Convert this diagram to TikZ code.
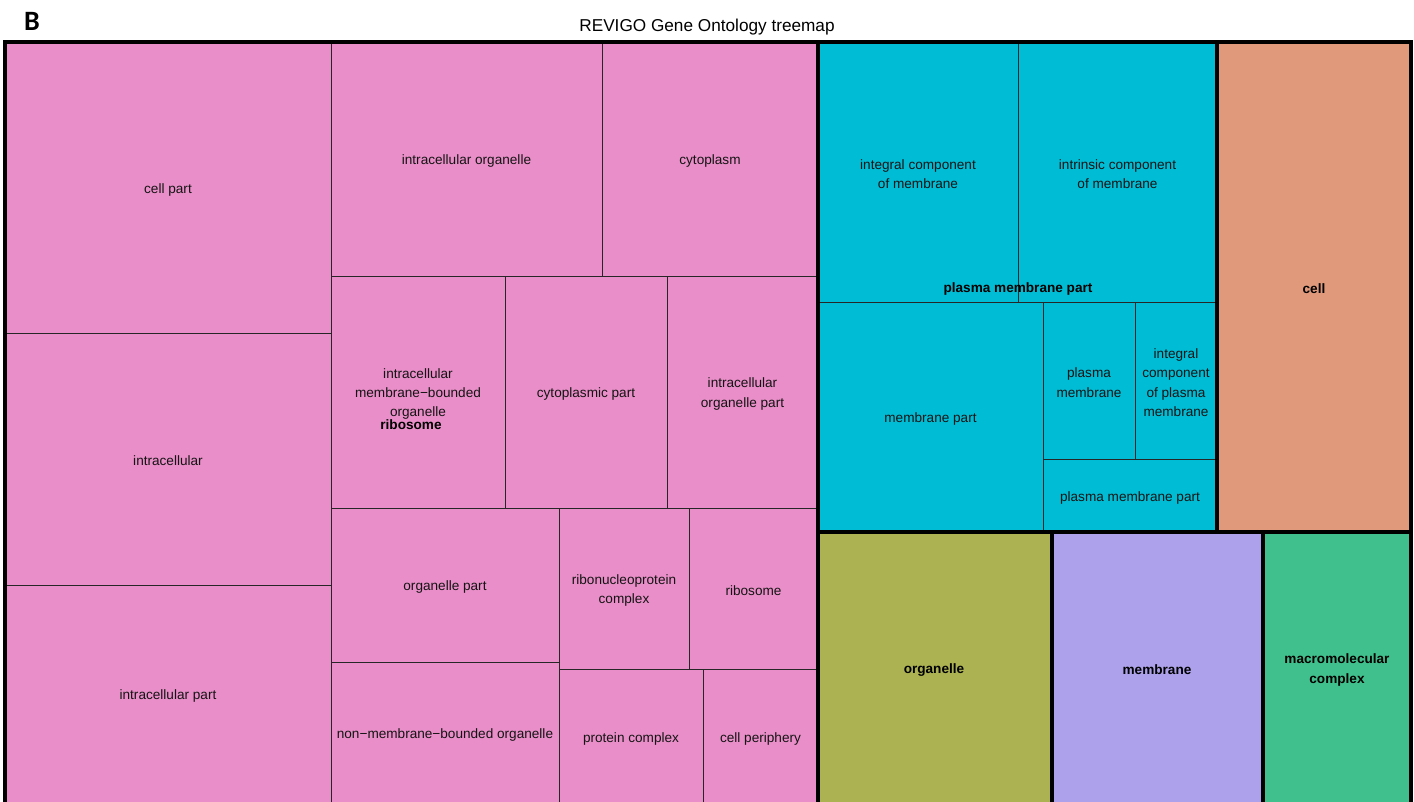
\documentclass[tikz,border=0pt]{standalone}
\usepackage{fontspec}
\setmainfont{Liberation Sans}
\newfontfamily\carlito{Carlito}
\definecolor{gopink}{HTML}{E98EC8}
\definecolor{gocyan}{HTML}{00BCD4}
\definecolor{gosalmon}{HTML}{E0997B}
\definecolor{goolive}{HTML}{ACB151}
\definecolor{golav}{HTML}{ACA1EA}
\definecolor{gogreen}{HTML}{40C08C}
\tikzset{
  thinline/.style={draw=black!85, line width=0.75pt},
  thickline/.style={draw=black, line width=2.5pt},
  lbl/.style={font=\fontsize{10.2}{14.6}\selectfont, text=black!92, align=center, inner sep=0pt},
  grplbl/.style={font=\fontsize{10.2}{14.6}\selectfont\bfseries, text=black, align=center, inner sep=0pt},
}
\newcommand{\gotile}[7]{%
  \fill[#6] (#2,#3) rectangle (#4,#5);
  \draw[thinline] (#2,#3) rectangle (#4,#5);
  \node[lbl] (#1) at ({(#2+#4)/2},{(#3+#5)/2+2}) {#7};}
\begin{document}
\begin{tikzpicture}[x=0.75pt,y=-0.75pt]
\useasboundingbox (0,0) rectangle (1414,801);
% title
\node[font=\carlito\bfseries\fontsize{21}{23}\selectfont, inner sep=0pt] (lblB) at (32,21.5) {B};
\node[font=\fontsize{12.9}{15}\selectfont, inner sep=0pt] (title) at (707,27) {REVIGO Gene Ontology treemap};
% pink group
\gotile{cellpart}{5}{42}{331}{333}{gopink}{cell part}
\gotile{intracellular}{5}{333}{331}{585}{gopink}{intracellular}
\gotile{intracellularpart}{5}{585}{331}{803}{gopink}{intracellular part}
\gotile{intorg}{331}{42}{602}{276}{gopink}{intracellular organelle}
\gotile{cytoplasm}{602}{42}{818}{276}{gopink}{cytoplasm}
\gotile{imbo}{331}{276}{505}{508}{gopink}{intracellular\\membrane\char"2212 bounded\\organelle}
\gotile{cytopart}{505}{276}{667}{508}{gopink}{cytoplasmic part}
\gotile{intorgpart}{667}{276}{818}{508}{gopink}{intracellular\\organelle part}
\gotile{orgpart}{331}{508}{559}{662}{gopink}{organelle part}
\gotile{nmbo}{331}{662}{559}{804}{gopink}{non\char"2212 membrane\char"2212 bounded organelle}
\gotile{rnp}{559}{508}{689}{669}{gopink}{ribonucleoprotein\\complex}
\gotile{ribosome}{689}{508}{818}{669}{gopink}{ribosome}
\gotile{protcomplex}{559}{669}{703}{804}{gopink}{protein complex}
\gotile{cellperiph}{703}{669}{818}{804}{gopink}{cell periphery}
% cyan group
\gotile{icm}{818}{42}{1018}{302}{gocyan}{integral component\\of membrane}
\gotile{intrcm}{1018}{42}{1217}{302}{gocyan}{intrinsic component\\of membrane}
\gotile{mempart}{818}{302}{1043}{532}{gocyan}{membrane part}
\gotile{plasmamem}{1043}{302}{1135}{459}{gocyan}{plasma\\membrane}
\gotile{icpm}{1135}{302}{1217}{459}{gocyan}{integral\\component\\of plasma\\membrane}
\gotile{pmpart}{1043}{459}{1217}{532}{gocyan}{plasma membrane part}
% single groups
\fill[gosalmon] (1217,42) rectangle (1411,532);
\fill[goolive] (818,532) rectangle (1052,804);
\fill[golav] (1052,532) rectangle (1263,804);
\fill[gogreen] (1263,532) rectangle (1411,804);
% thick group borders
\draw[thickline] (5,42) rectangle (818,806);
\draw[thickline] (818,42) rectangle (1217,532);
\draw[thickline] (1217,42) rectangle (1411,532);
\draw[thickline] (818,532) rectangle (1052,806);
\draw[thickline] (1052,532) rectangle (1263,806);
\draw[thickline] (1263,532) rectangle (1411,806);
% group labels
\node[grplbl] (gribosome) at (411,425) {ribosome};
\node[grplbl] (gpmpart) at (1018,289) {plasma membrane part};
\node[grplbl] (gcell) at (1314,289) {cell};
\node[grplbl] (gorganelle) at (934,670) {organelle};
\node[grplbl] (gmembrane) at (1157,670) {membrane};
\node[grplbl] (gmacro) at (1337,670) {macromolecular\\complex};
\end{tikzpicture}
\end{document}
